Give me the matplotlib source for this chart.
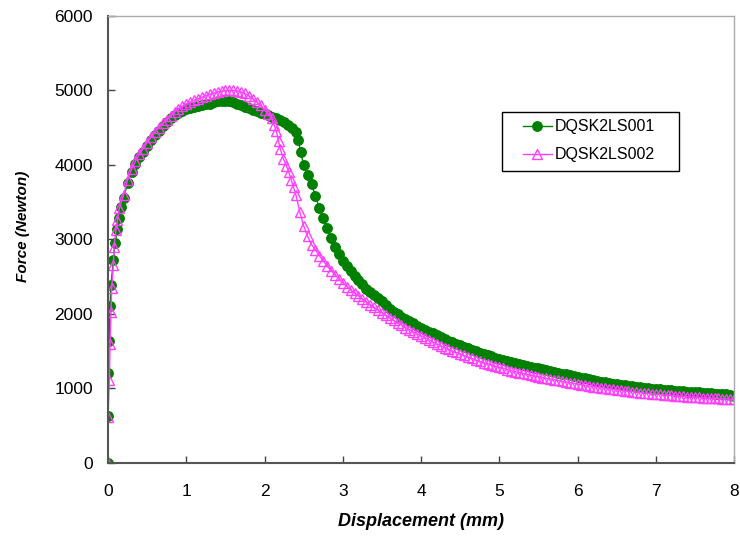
import matplotlib
matplotlib.use("Agg")
import matplotlib.pyplot as plt
from matplotlib.patches import Rectangle

plt.rcParams['font.family'] = ['Liberation Sans', 'DejaVu Sans']

# DQSK2LS001: displacement (mm) / force (N)
disp_001 = [0, 0, 0.002, 0.013, 0.026, 0.038, 0.068, 0.09, 0.12, 0.14, 0.166,
            0.20, 0.25, 0.30, 0.35, 0.40, 0.45, 0.50, 0.55, 0.60, 0.65,
            0.70, 0.75, 0.80, 0.85, 0.90, 0.95, 1.00, 1.05, 1.10, 1.15,
            1.20, 1.25, 1.30, 1.35, 1.40, 1.45, 1.50, 1.55, 1.60, 1.65,
            1.70, 1.75, 1.80, 1.85, 1.90, 1.95, 2.00, 2.05, 2.10, 2.15,
            2.20, 2.25, 2.30, 2.35, 2.40, 2.43, 2.46, 2.50, 2.55, 2.60,
            2.65, 2.70, 2.75, 2.80, 2.85, 2.90, 2.95, 3.00, 3.05, 3.10,
            3.15, 3.20, 3.25, 3.30, 3.35, 3.40, 3.45, 3.50, 3.55, 3.60,
            3.65, 3.70, 3.75, 3.80, 3.85, 3.90, 3.95, 4.00, 4.05, 4.10,
            4.15, 4.20, 4.25, 4.30, 4.35, 4.40, 4.45, 4.50, 4.55, 4.60,
            4.65, 4.70, 4.75, 4.80, 4.85, 4.90, 4.95, 5.00, 5.05, 5.10,
            5.15, 5.20, 5.25, 5.30, 5.35, 5.40, 5.45, 5.50, 5.55, 5.60,
            5.65, 5.70, 5.75, 5.80, 5.85, 5.90, 5.95, 6.00, 6.05, 6.10,
            6.15, 6.20, 6.25, 6.30, 6.35, 6.40, 6.45, 6.50, 6.55, 6.60,
            6.65, 6.70, 6.75, 6.80, 6.85, 6.90, 6.95, 7.00, 7.05, 7.10,
            7.15, 7.20, 7.25, 7.30, 7.35, 7.40, 7.45, 7.50, 7.55, 7.60,
            7.65, 7.70, 7.75, 7.80, 7.85, 7.90, 7.95, 8.00]
force_001 = [0, 620, 1200, 1640, 2100, 2390, 2720, 2950, 3135, 3285, 3440,
             3560, 3760, 3900, 4010, 4100, 4180, 4260, 4330, 4400, 4460,
             4520, 4580, 4630, 4670, 4700, 4730, 4750, 4760, 4775, 4785,
             4800, 4815, 4825, 4840, 4855, 4860, 4860, 4860, 4845, 4825,
             4800, 4780, 4760, 4740, 4720, 4700, 4690, 4665, 4645, 4625,
             4605, 4580, 4540, 4500, 4440, 4340, 4180, 4000, 3870, 3740,
             3580, 3420, 3290, 3150, 3020, 2900, 2800, 2710, 2635, 2570,
             2510, 2455, 2400, 2330, 2290, 2250, 2210, 2170, 2120, 2070,
             2030, 1990, 1960, 1930, 1900, 1870, 1840, 1810, 1785, 1760,
             1735, 1710, 1685, 1660, 1635, 1615, 1595, 1575, 1555, 1535,
             1515, 1495, 1475, 1458, 1442, 1426, 1410, 1395, 1380, 1365,
             1350, 1336, 1324, 1312, 1300, 1288, 1276, 1265, 1254, 1243,
             1232, 1220, 1208, 1196, 1185, 1175, 1165, 1155, 1143, 1130,
             1118, 1105, 1095, 1085, 1076, 1068, 1060, 1052, 1044, 1036,
             1030, 1024, 1018, 1012, 1006, 1000, 995, 990, 985, 980,
             975, 971, 967, 963, 959, 955, 952, 948, 944, 940,
             936, 932, 928, 924, 920, 915, 910, 900]

# DQSK2LS002
disp_002 = [0, 0, 0.017, 0.026, 0.038, 0.047, 0.068, 0.077, 0.10, 0.12, 0.145,
            0.20, 0.25, 0.30, 0.35, 0.40, 0.45, 0.50, 0.55, 0.60, 0.65,
            0.70, 0.75, 0.80, 0.85, 0.90, 0.95, 1.00, 1.05, 1.10, 1.15,
            1.20, 1.25, 1.30, 1.35, 1.40, 1.45, 1.50, 1.55, 1.60, 1.65,
            1.70, 1.75, 1.80, 1.85, 1.90, 1.95, 2.00, 2.05, 2.09, 2.12,
            2.15, 2.18, 2.20, 2.24, 2.28, 2.31, 2.34, 2.37, 2.40, 2.45,
            2.50, 2.55, 2.60, 2.65, 2.70, 2.75, 2.80, 2.85, 2.90, 2.95,
            3.00, 3.05, 3.10, 3.15, 3.20, 3.25, 3.30, 3.35, 3.40, 3.45,
            3.50, 3.55, 3.60, 3.65, 3.70, 3.75, 3.80, 3.85, 3.90, 3.95,
            4.00, 4.05, 4.10, 4.15, 4.20, 4.25, 4.30, 4.35, 4.40, 4.45,
            4.50, 4.55, 4.60, 4.65, 4.70, 4.75, 4.80, 4.85, 4.90, 4.95,
            5.00, 5.05, 5.10, 5.15, 5.20, 5.25, 5.30, 5.35, 5.40, 5.45,
            5.50, 5.55, 5.60, 5.65, 5.70, 5.75, 5.80, 5.85, 5.90, 5.95,
            6.00, 6.05, 6.10, 6.15, 6.20, 6.25, 6.30, 6.35, 6.40, 6.45,
            6.50, 6.55, 6.60, 6.65, 6.70, 6.75, 6.80, 6.85, 6.90, 6.95,
            7.00, 7.05, 7.10, 7.15, 7.20, 7.25, 7.30, 7.35, 7.40, 7.45,
            7.50, 7.55, 7.60, 7.65, 7.70, 7.75, 7.80, 7.85, 7.90, 7.95,
            8.00]
force_002 = [0, 610, 1110, 1600, 2030, 2340, 2650, 2900, 3125, 3260, 3420,
             3600, 3800, 3940, 4050, 4140, 4220, 4300, 4370, 4440, 4500,
             4560, 4610, 4660, 4710, 4750, 4790, 4820, 4845, 4870, 4890,
             4910, 4930, 4950, 4965, 4980, 4990, 5000, 5005, 5000, 4995,
             4980, 4960, 4925, 4890, 4845, 4800, 4740, 4680, 4630, 4540,
             4460, 4320, 4220, 4080, 3990, 3900, 3800, 3700, 3600, 3370,
             3180, 3040, 2930, 2860, 2780, 2710, 2640, 2580, 2520, 2465,
             2415, 2365, 2320, 2280, 2240, 2200, 2160, 2120, 2085, 2050,
             2015, 1980, 1945, 1910, 1877, 1845, 1815, 1785, 1757, 1730,
             1705, 1678, 1650, 1622, 1595, 1570, 1545, 1520, 1500, 1480,
             1460, 1440, 1420, 1400, 1380, 1360, 1343, 1327, 1311, 1295,
             1280, 1265, 1250, 1236, 1222, 1210, 1198, 1187, 1176, 1165,
             1154, 1143, 1133, 1123, 1113, 1103, 1093, 1083, 1074, 1065,
             1056, 1047, 1038, 1030, 1022, 1014, 1006, 999, 992, 985,
             978, 971, 965, 959, 953, 947, 941, 936, 931, 926,
             921, 916, 911, 907, 903, 899, 895, 891, 887, 883,
             879, 876, 873, 870, 867, 864, 861, 858, 855, 852,
             850]

GREEN = '#008000'
PINK = '#FF40FF'

fig = plt.figure(figsize=(7.4, 5.36), dpi=100)
ax = fig.add_axes([0.146, 0.137, 0.846, 0.833])

ax.plot(disp_001, force_001, color=GREEN, lw=1.0, marker='o', ms=6.8,
        mfc=GREEN, mec=GREEN, label='DQSK2LS001')
ax.plot(disp_002, force_002, color=PINK, lw=1.0, marker='^', ms=7.0,
        mfc='none', mec=PINK, mew=1.0, label='DQSK2LS002')

ax.set_xlim(0, 8)
ax.set_ylim(0, 6000)
ax.set_xticks(range(0, 9))
ax.set_yticks(range(0, 6001, 1000))
ax.tick_params(direction='in', length=5, width=1, color='#444444',
               labelsize=12.5)
ax.tick_params(axis='x', pad=15.5)
ax.tick_params(axis='y', pad=11)

for side in ('left', 'bottom'):
    ax.spines[side].set_color('#555555')
    ax.spines[side].set_linewidth(1.5)
for side in ('top', 'right'):
    ax.spines[side].set_color('#aaaaaa')
    ax.spines[side].set_linewidth(1.0)

ax.set_xlabel('Displacement (mm)', fontsize=13, fontweight='bold',
              fontstyle='italic')
ax.set_ylabel('Force (Newton)', fontsize=11, fontweight='bold',
              fontstyle='italic')
ax.xaxis.set_label_coords(0.5, -0.112)
ax.yaxis.set_label_coords(-0.125, 0.53)

# legend entries without frame, plus a plain black box around them
leg = ax.legend(loc='center left', bbox_to_anchor=(0.663, 0.7206),
                fontsize=11.5, frameon=False, handlelength=1.8,
                borderpad=0, labelspacing=0.8, handletextpad=0.2,
                borderaxespad=0)
ax.add_patch(Rectangle((0.6294, 0.653), 0.9121 - 0.6294, 0.785 - 0.653,
                       transform=ax.transAxes, fill=False,
                       edgecolor='black', lw=1.0, zorder=5))

fig.savefig('out.png', dpi=100)
